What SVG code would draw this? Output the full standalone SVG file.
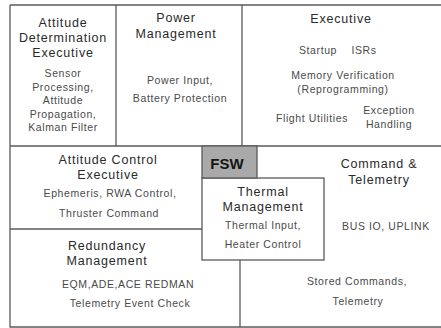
<svg xmlns="http://www.w3.org/2000/svg" width="441" height="328" viewBox="0 0 441 328">
<style>
.ln{fill:none;stroke:#5a5a5a;stroke-width:1.3}
.t{font-family:"Liberation Sans",Arial,sans-serif;font-size:12.5px;fill:#2a2a2a;text-anchor:middle;letter-spacing:0.8px}
.b{font-family:"Liberation Sans",Arial,sans-serif;font-size:10.5px;fill:#4a4a4a;text-anchor:middle;letter-spacing:0.6px}
.f{font-family:"Liberation Sans",Arial,sans-serif;font-size:15px;font-weight:bold;fill:#151515;text-anchor:middle}
</style>
<rect width="441" height="328" fill="#ffffff"/>
<g id="connectors">
<path class="ln" d="M10,5 H441 M10,5 V327 H441 M10,146 H441 M10,229 H202 M240,260 V327"/>
</g>
<g id="attitude-determination">
<path class="ln" d="M116,5 V146"/>
<text class="t" x="63" y="26.5">Attitude</text>
<text class="t" x="63" y="41.5">Determination</text>
<text class="t" x="63" y="56.5">Executive</text>
<text class="b" x="63" y="77">Sensor</text>
<text class="b" x="63" y="90.5">Processing,</text>
<text class="b" x="63" y="104">Attitude</text>
<text class="b" x="63" y="117.5">Propagation,</text>
<text class="b" x="63" y="131">Kalman Filter</text>
</g>
<g id="power-management">
<path class="ln" d="M242,5 V146"/>
<text class="t" x="176" y="21.5">Power</text>
<text class="t" x="176" y="38">Management</text>
<text class="b" x="180" y="84">Power Input,</text>
<text class="b" x="180" y="102">Battery Protection</text>
</g>
<g id="executive">
<text class="t" x="341" y="22.5">Executive</text>
<text class="b" x="318" y="54">Startup</text>
<text class="b" x="364" y="54">ISRs</text>
<text class="b" x="343" y="79">Memory Verification</text>
<text class="b" x="343" y="93">(Reprogramming)</text>
<text class="b" x="312" y="122">Flight Utilities</text>
<text class="b" x="389" y="114">Exception</text>
<text class="b" x="389" y="128">Handling</text>
</g>
<g id="attitude-control">
<text class="t" x="108" y="163.5">Attitude Control</text>
<text class="t" x="108" y="178.5">Executive</text>
<text class="b" x="110" y="197">Ephemeris, RWA Control,</text>
<text class="b" x="109" y="217">Thruster Command</text>
</g>
<g id="redundancy-management">
<text class="t" x="107" y="250">Redundancy</text>
<text class="t" x="107" y="265">Management</text>
<text class="b" x="128" y="288">EQM,ADE,ACE REDMAN</text>
<text class="b" x="130" y="307">Telemetry Event Check</text>
</g>
<g id="command-telemetry">
<text class="t" x="379" y="167.5">Command &amp;</text>
<text class="t" x="379" y="183.5">Telemetry</text>
<text class="b" x="386" y="230">BUS IO, UPLINK</text>
<text class="b" x="357" y="285">Stored Commands,</text>
<text class="b" x="358" y="305">Telemetry</text>
</g>
<g id="thermal-management">
<rect class="ln" x="202" y="178" width="122" height="82" fill="#ffffff"/>
<text class="t" x="263" y="195.5">Thermal</text>
<text class="t" x="263" y="210.5">Management</text>
<text class="b" x="263" y="229">Thermal Input,</text>
<text class="b" x="263" y="248">Heater Control</text>
</g>
<g id="fsw">
<rect x="202" y="146" width="55" height="32" fill="#a9a9a9" stroke="#5a5a5a" stroke-width="1.3"/>
<text class="f" x="227" y="168.5">FSW</text>
</g>
</svg>
